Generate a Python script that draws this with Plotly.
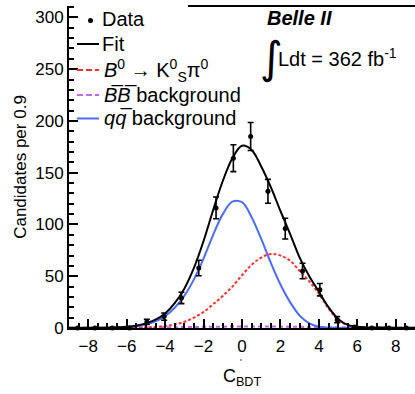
import plotly.graph_objects as go

# ---------------- data ----------------
bin_centers = [-8.55, -7.65, -6.75, -5.85, -4.95, -4.05, -3.15, -2.25, -1.35, -0.45,
               0.45, 1.35, 2.25, 3.15, 4.05, 4.95, 5.85, 6.75, 7.65, 8.55]
data_counts = [0, 0, 0, 0, 6, 11, 29, 58, 116, 164, 185, 132, 96, 55, 37, 8, 1, 0, 0, 0]
data_errors = [0, 0, 0, 0, 2.5, 3.5, 5.5, 7.5, 10.5, 13, 13.5, 11.5, 10, 7.5, 6, 3, 1, 0, 0, 0]

curve_x = [-9, -8.5, -8, -7.5, -7, -6.5, -6, -5.5, -5, -4.5, -4, -3.5, -3, -2.5, -2, -1.5,
           -1, -0.5, 0, 0.5, 1, 1.5, 2, 2.5, 3, 3.5, 4, 4.5, 5, 5.5, 6, 6.5, 7, 7.5, 8, 8.5, 9]
fit_total = [0.3, 0.3, 0.3, 0.3, 0.4, 0.7, 1.1, 2.2, 4.5, 8, 14, 24, 38, 58, 84, 114,
             142, 164, 176, 172, 156, 136, 113, 91, 68, 50, 35, 20, 8.8, 3, 1.1, 0.6, 0.4, 0.4, 0.3, 0.3, 0.3]
sig_curve = [0, 0, 0, 0, 0, 0, 0.1, 0.2, 0.5, 1, 2, 3.5, 6, 10, 15.5, 23,
             31, 40, 51, 61, 68, 71.5, 70, 65, 55, 45, 33, 19, 8, 2.5, 0.6, 0.1, 0, 0, 0, 0, 0]
bb_curve = [0.3, 0.3, 0.3, 0.3, 0.3, 0.4, 0.4, 0.5, 0.5, 0.6, 0.7, 0.8, 0.9, 1, 1.1, 1.2,
            1.3, 1.4, 1.5, 1.5, 1.5, 1.4, 1.3, 1.2, 1.1, 1, 0.9, 0.8, 0.7, 0.6, 0.5, 0.5, 0.4, 0.4, 0.3, 0.3, 0.3]
qq_curve = [0, 0, 0, 0, 0.1, 0.3, 0.6, 1.5, 3.5, 6.5, 11.5, 19.5, 31, 47, 67, 90,
            110, 122, 121.5, 107, 86, 63, 42, 25, 12, 4.5, 1.2, 0.3, 0.1, 0, 0, 0, 0, 0, 0, 0, 0]

legend_labels = ["Data", "Fit",
                 "<i>B</i><sup>0</sup> \u2192 K<sup>0</sup><sub>S</sub>\u03c0<sup>0</sup>",
                 "<i>B</i>\u0305<i>B</i>\u0305 background",
                 "<i>q</i><i>q</i>\u0305 background"]

x_range = [-9, 9]
y_range = [0, 311]

FONT = "Liberation Sans"
C_FIT = "black"
C_SIG = "#ff3030"
C_BB = "#c266f0"
C_QQ = "#4a6cff"

# plot-area geometry (pixels) used to place decorations in paper coordinates
W, H = 415, 394
ML, MR, MT, MB = 69, 0, 6, 66
PW, PH = W - ML - MR, H - MT - MB


def px(xp):
    return (xp - ML) / PW


def py(yp):
    return (H - MB - yp) / PH


fig = go.Figure()

fig.add_trace(go.Scatter(x=curve_x, y=bb_curve, mode="lines", name=legend_labels[3],
                         line=dict(color=C_BB, width=2, dash="4px,3px", shape="spline")))
fig.add_trace(go.Scatter(x=curve_x, y=qq_curve, mode="lines", name=legend_labels[4],
                         line=dict(color=C_QQ, width=2, shape="spline")))
fig.add_trace(go.Scatter(x=curve_x, y=sig_curve, mode="lines", name=legend_labels[2],
                         line=dict(color=C_SIG, width=2, dash="3px,2px", shape="spline")))
fig.add_trace(go.Scatter(x=curve_x, y=fit_total, mode="lines", name=legend_labels[1],
                         line=dict(color=C_FIT, width=2, shape="spline")))
fig.add_trace(go.Scatter(x=bin_centers, y=data_counts, mode="markers", name=legend_labels[0],
                         marker=dict(color="black", size=5),
                         error_y=dict(type="data", array=data_errors, color="black",
                                      thickness=1.6, width=3),
                         cliponaxis=False))

fig.update_layout(
    width=W, height=H,
    margin=dict(l=ML, r=MR, t=MT, b=MB),
    paper_bgcolor="white", plot_bgcolor="white",
    font=dict(family=FONT, color="black", size=17),
    showlegend=False,
    xaxis=dict(range=x_range, showgrid=False, zeroline=False,
               showline=True, linecolor="black", linewidth=2,
               ticks="inside", ticklen=9, tickwidth=1.5, tickcolor="black",
               dtick=2, tick0=0, ticklabelstandoff=2,
               minor=dict(dtick=0.5, ticks="inside", ticklen=5, tickwidth=1.5, tickcolor="black"),
               tickfont=dict(size=17),
               title=dict(text="C<sub>BDT</sub>", font=dict(size=18), standoff=14)),
    yaxis=dict(range=y_range, showgrid=False, zeroline=False,
               showline=True, linecolor="black", linewidth=2,
               ticks="inside", ticklen=9, tickwidth=1.5, tickcolor="black",
               dtick=50, tick0=0,
               minor=dict(dtick=10, ticks="inside", ticklen=5, tickwidth=1.5, tickcolor="black"),
               tickfont=dict(size=17),
               title=dict(text="Candidates per 0.9", font=dict(size=17), standoff=4)),
)

# partial top frame line (left part hidden behind the legend in the original)
fig.add_shape(type="line", xref="paper", yref="paper", x0=px(188), x1=1.0, y0=1.0, y1=1.0,
              line=dict(color="black", width=2))

# ---------- hand-drawn legend ----------
# Data marker
fig.add_shape(type="circle", xref="paper", yref="paper", xsizemode="pixel", ysizemode="pixel",
              xanchor=px(90.5), yanchor=py(20.5), x0=-2.5, x1=2.5, y0=-2.5, y1=2.5,
              fillcolor="black", line=dict(color="black", width=0))
legend_styles = [None,
                 dict(color=C_FIT, width=2),
                 dict(color=C_SIG, width=2, dash="6px,3px"),
                 dict(color=C_BB, width=2, dash="6px,3px"),
                 dict(color=C_QQ, width=2)]
legend_y = [19, 44, 70, 95, 118.5]
legend_text_x = [100, 100, 102, 102, 102]
for lab, sty, yy, tx in zip(legend_labels, legend_styles, legend_y, legend_text_x):
    if sty is not None:
        fig.add_shape(type="line", xref="paper", yref="paper", x0=px(77), x1=px(99),
                      y0=py(yy), y1=py(yy), line=sty)
    fig.add_annotation(xref="paper", yref="paper", x=px(tx), y=py(yy), xanchor="left",
                       yanchor="middle", text=lab, showarrow=False,
                       font=dict(family=FONT, size=20))

fig.add_annotation(xref="paper", yref="paper", x=px(265), y=py(18), xanchor="left", yanchor="middle",
                   text="<b><i>Belle II</i></b>", showarrow=False,
                   font=dict(family=FONT, size=20))
fig.add_annotation(xref="paper", yref="paper", x=px(258), y=py(58), xanchor="left", yanchor="middle",
                   text="\u222b", showarrow=False, font=dict(family="DejaVu Sans", size=44))
fig.add_annotation(xref="paper", yref="paper", x=px(276), y=py(57), xanchor="left", yanchor="middle",
                   text="Ldt = 362 fb<sup>-1</sup>", showarrow=False,
                   font=dict(family=FONT, size=20))
fig.add_annotation(xref="paper", yref="paper", x=px(241), y=py(362), xanchor="center", yanchor="middle",
                   text="'", showarrow=False, font=dict(family=FONT, size=9))

fig.write_html("out.html")
